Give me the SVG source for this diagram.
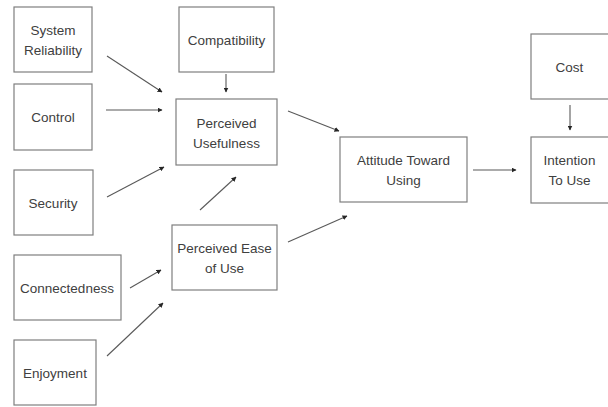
<svg xmlns="http://www.w3.org/2000/svg" width="608" height="407" viewBox="0 0 608 407">
<defs>
<style>
.box{fill:#fff;stroke:#7f7f7f;stroke-width:1.2}
.lbl{font-family:"Liberation Sans",Arial,sans-serif;font-size:13.5px;fill:#404040;text-anchor:middle;dominant-baseline:central}
.con{stroke:#595959;stroke-width:1.1;fill:none;marker-end:url(#ah)}
</style>
<marker id="ah" viewBox="0 0 10 10" refX="9" refY="5" markerWidth="5" markerHeight="5" markerUnits="userSpaceOnUse" orient="auto">
<path d="M0,0 L10,5 L0,10 z" fill="#262626"/>
</marker>
</defs>
<rect width="608" height="407" fill="#fff"/>
<g id="sysrel"><rect class="box" x="14" y="7" width="78" height="65"/><text class="lbl" x="53" y="30">System</text><text class="lbl" x="53" y="50">Reliability</text></g>
<g id="control"><rect class="box" x="14" y="84" width="78" height="66"/><text class="lbl" x="53" y="117">Control</text></g>
<g id="security"><rect class="box" x="14" y="170" width="79" height="65"/><text class="lbl" x="53" y="203">Security</text></g>
<g id="connectedness"><rect class="box" x="14" y="255" width="107" height="65"/><text class="lbl" x="67" y="288">Connectedness</text></g>
<g id="enjoyment"><rect class="box" x="14" y="340" width="82" height="65"/><text class="lbl" x="55" y="373">Enjoyment</text></g>
<g id="compat"><rect class="box" x="179" y="7" width="95" height="65"/><text class="lbl" x="226.5" y="40">Compatibility</text></g>
<g id="pu"><rect class="box" x="176" y="99" width="101" height="66"/><text class="lbl" x="226.5" y="123">Perceived</text><text class="lbl" x="226.5" y="143">Usefulness</text></g>
<g id="peou"><rect class="box" x="172" y="225" width="105" height="65"/><text class="lbl" x="224.5" y="248">Perceived Ease</text><text class="lbl" x="224.5" y="268">of Use</text></g>
<g id="atu"><rect class="box" x="340" y="137" width="127" height="65"/><text class="lbl" x="403.5" y="160">Attitude Toward</text><text class="lbl" x="403.5" y="180">Using</text></g>
<g id="cost"><rect class="box" x="531" y="34" width="80" height="65"/><text class="lbl" x="569.5" y="67">Cost</text></g>
<g id="itu"><rect class="box" x="531" y="137" width="80" height="66"/><text class="lbl" x="569.5" y="160">Intention</text><text class="lbl" x="569.5" y="180">To Use</text></g>
<g id="connectors">
<line class="con" x1="107" y1="56" x2="162" y2="92"/>
<line class="con" x1="106" y1="110" x2="162" y2="110"/>
<line class="con" x1="107" y1="197" x2="164" y2="167"/>
<line class="con" x1="226" y1="74" x2="226" y2="92"/>
<line class="con" x1="200" y1="210" x2="236" y2="177"/>
<line class="con" x1="130" y1="288" x2="161" y2="270"/>
<line class="con" x1="107" y1="356" x2="163" y2="303"/>
<line class="con" x1="288" y1="111" x2="339" y2="131"/>
<line class="con" x1="288" y1="242" x2="347" y2="216"/>
<line class="con" x1="473" y1="170" x2="516" y2="170"/>
<line class="con" x1="570" y1="105" x2="570" y2="130"/>
</g>
</svg>
